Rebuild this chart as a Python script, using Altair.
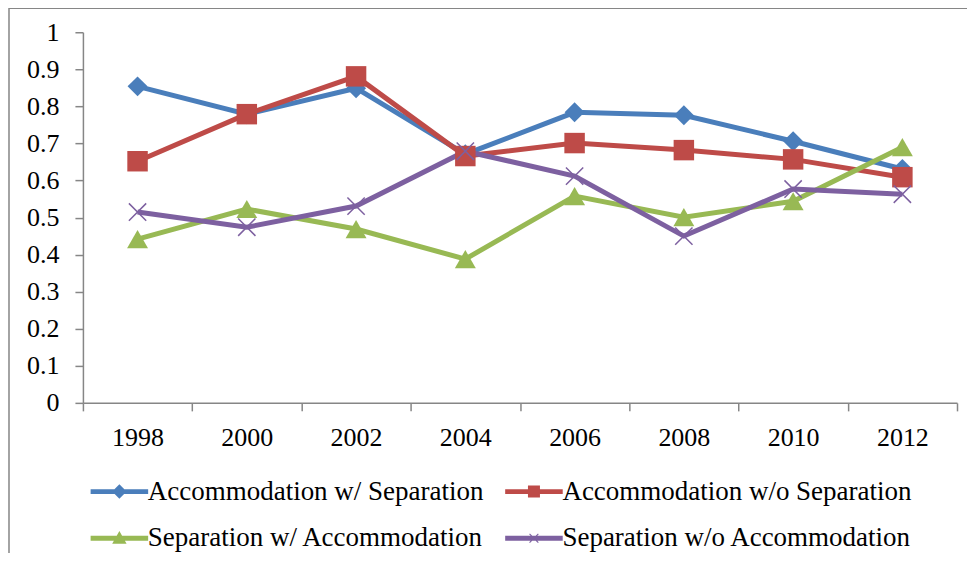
import altair as alt
import pandas as pd

years = ["1998", "2000", "2002", "2004", "2006", "2008", "2010", "2012"]
series = [
    "Accommodation w/ Separation",
    "Accommodation w/o Separation",
    "Separation w/ Accommodation",
    "Separation w/o Accommodation",
]
accom_w_sep = [0.854, 0.779, 0.849, 0.671, 0.784, 0.776, 0.706, 0.631]
accom_wo_sep = [0.652, 0.779, 0.881, 0.666, 0.701, 0.682, 0.657, 0.609]
sep_w_accom = [0.442, 0.523, 0.469, 0.388, 0.558, 0.501, 0.544, 0.690]
sep_wo_accom = [0.515, 0.474, 0.531, 0.679, 0.612, 0.450, 0.577, 0.563]
y_ticks = [0, 0.1, 0.2, 0.3, 0.4, 0.5, 0.6, 0.7, 0.8, 0.9, 1]

colors = ["#4A7EBB", "#BE4B48", "#98B954", "#7D60A0"]
FONT = "Liberation Serif"
AXIS = "#868686"

rows = []
for name, vals in zip(series, [accom_w_sep, accom_wo_sep, sep_w_accom, sep_wo_accom]):
    for yr, v in zip(years, vals):
        rows.append({"year": yr, "value": v, "series": name, "legend": name})
df = pd.DataFrame(rows)

x_enc = alt.X("year:N", sort=years, title=None,
              scale=alt.Scale(type="band", paddingInner=0, paddingOuter=0),
              axis=alt.Axis(tickBand="extent", labelFont=FONT, labelFontSize=26,
                            labelColor="black", domainColor=AXIS, tickColor=AXIS,
                            tickSize=8, labelPadding=14, labelAngle=0, grid=False,
                            domainWidth=1.5, tickWidth=1.5))
y_enc = alt.Y("value:Q", title=None,
              scale=alt.Scale(domain=[0, 1], nice=False),
              axis=alt.Axis(values=y_ticks, format="~g", labelFont=FONT, labelFontSize=26,
                            labelColor="black", domainColor=AXIS, tickColor=AXIS,
                            tickSize=8, labelPadding=16, grid=False,
                            domainWidth=1.5, tickWidth=1.5))

color_scale = alt.Scale(domain=series, range=colors)

base = alt.Chart(df)

lines = base.mark_line(strokeWidth=5).encode(
    x=x_enc, y=y_enc,
    color=alt.Color("series:N", scale=color_scale, legend=None),
    detail="series:N",
)

pts3 = base.transform_filter(
    alt.FieldOneOfPredicate(field="series", oneOf=series[:3])
).mark_point(filled=True, opacity=1).encode(
    x=x_enc, y=y_enc,
    color=alt.Color("series:N", scale=color_scale, legend=None),
    shape=alt.Shape("series:N", scale=alt.Scale(domain=series[:3],
                    range=["diamond", "square", "triangle-up"]), legend=None),
    size=alt.Size("series:N", scale=alt.Scale(domain=series[:3], range=[400, 440, 400]),
                  legend=None),
)

x_path = "M-1,-1L1,1M-1,1L1,-1"
ptsx = base.transform_filter(
    alt.FieldEqualPredicate(field="series", equal=series[3])
).mark_point(filled=False, shape=x_path, size=300, strokeWidth=1.5, opacity=1,
             color=colors[3]).encode(x=x_enc, y=y_enc)

line_seg = "M-3.6,-0.3H3.6V0.3H-3.6Z"
legend_paths = [
    line_seg + "M0,-0.9L0.9,0L0,0.9L-0.9,0Z",
    line_seg + "M-0.75,-0.75H0.75V0.75H-0.75Z",
    line_seg + "M0,-0.9L0.9,0.7L-0.9,0.7Z",
    line_seg + "M-0.6,-0.5L-0.5,-0.6L0.6,0.5L0.5,0.6Z"
               "M0.5,-0.6L0.6,-0.5L-0.5,0.6L-0.6,0.5Z",
]

leg_layer = base.mark_point(filled=True, opacity=0).encode(
    x=x_enc, y=y_enc,
    color=alt.Color("legend:N", scale=alt.Scale(domain=series, range=colors), title=None),
    shape=alt.Shape("legend:N", scale=alt.Scale(domain=series, range=legend_paths), title=None,
                    legend=alt.Legend(orient="none", legendX=23, legendY=446, columns=2,
                                      direction="horizontal",
                                      symbolSize=256, labelOffset=15, columnPadding=21,
                                      rowPadding=19, labelFont=FONT, labelFontSize=27,
                                      labelColor="black", labelLimit=0, symbolOpacity=1,
                                      symbolStrokeWidth=0, title=None)),
)

frame_df = pd.DataFrame({"k": [0]})
frame = alt.Chart(frame_df).mark_rect(fill=None, stroke=AXIS, strokeWidth=1.5).encode(
    x=alt.value(-74), x2=alt.value(1200), y=alt.value(-24), y2=alt.value(900)
)

chart = alt.layer(frame, lines, pts3, ptsx, leg_layer).resolve_scale(
    color="independent", shape="independent", size="independent"
).properties(
    width=875, height=371,
    padding={"left": 75, "top": 24, "right": 10, "bottom": 150},
    autosize=alt.AutoSizeParams(type="none"),
    background="white",
).configure_view(stroke=None)

chart.save("out.html", embed_options={"renderer": "svg", "actions": False})
